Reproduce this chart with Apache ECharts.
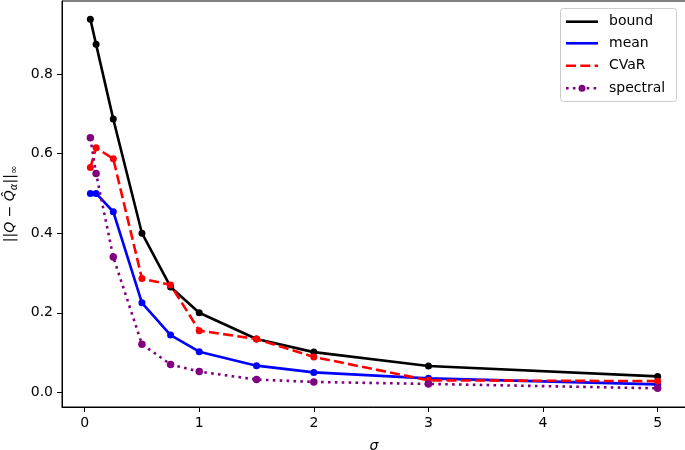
<!DOCTYPE html>
<html><head><meta charset="utf-8">
<script src="https://cdn.jsdelivr.net/npm/echarts@6/dist/echarts.min.js"></script>
<style>html,body{margin:0;padding:0;background:#fff}#c{width:685px;height:450px}</style>
</head><body><div id="c"></div>
<script>
const sigma = [0.05, 0.1, 0.25, 0.5, 0.75, 1, 1.5, 2, 3, 5];
const bound = [0.938, 0.875, 0.687, 0.400, 0.265, 0.200, 0.134, 0.101, 0.066, 0.040];
const mean = [0.500, 0.500, 0.454, 0.225, 0.144, 0.102, 0.067, 0.050, 0.035, 0.020];
const cvar = [0.565, 0.615, 0.587, 0.286, 0.270, 0.155, 0.134, 0.089, 0.030, 0.028];
const spectral = [0.640, 0.550, 0.340, 0.121, 0.070, 0.052, 0.032, 0.026, 0.021, 0.010];
const xTicks = [0, 1, 2, 3, 4, 5];
const yTicks = [0, 0.2, 0.4, 0.6, 0.8];
const seriesNames = ['bound', 'mean', 'CVaR', 'spectral'];
const seriesColors = ['#000000', '#0000ff', '#ff0000', '#800080'];

const FONT = 'DejaVu Sans';
const LW = 2.6;
const chart = echarts.init(document.getElementById('c'), null, {renderer: 'canvas'});

function mk(name, vals, color, type, size, z) {
  return {
    name: name, type: 'line', data: sigma.map((x, i) => [x, vals[i]]),
    symbol: 'circle', symbolSize: size, showAllSymbol: true, z: z,
    lineStyle: {color: color, width: LW, type: type, cap: 'butt'},
    itemStyle: {color: color, borderWidth: 0},
    emphasis: {disabled: true}, animation: false
  };
}

const dashPat = [10, 4.3];
const dotPat = [2.6, 4.3];
const legendY = [21.7, 43.3, 65.7, 88.3];
const dashes = [null, null, dashPat, dotPat];
const graphic = [{
  type: 'rect', shape: {x: 560.5, y: 8.5, width: 116, height: 93, r: 3},
  style: {fill: 'rgba(255,255,255,0.8)', stroke: '#cccccc', lineWidth: 1}, z: 100
}];
seriesNames.forEach((n, i) => {
  graphic.push({
    type: 'line', shape: {x1: 566, y1: legendY[i], x2: 598, y2: legendY[i]},
    style: {stroke: seriesColors[i], lineWidth: LW, lineDash: dashes[i]}, z: 101
  });
  graphic.push({
    type: 'text', x: 609, y: legendY[i],
    style: {text: n, fill: '#000', font: '14px "DejaVu Sans"', verticalAlign: 'middle', textAlign: 'left'}, z: 101
  });
});
graphic.push({type: 'circle', shape: {cx: 582, cy: legendY[3], r: 3.5}, style: {fill: seriesColors[3]}, z: 102});

chart.setOption({
  animation: false,
  backgroundColor: '#fff',
  grid: {left: 62, top: 1, right: -1, bottom: 43, show: true, borderColor: '#000', borderWidth: 1,
    backgroundColor: 'transparent', containLabel: false, outerBoundsMode: 'none'},
  xAxis: {
    type: 'value', min: -0.1975, max: 5.2475,
    axisLine: {show: true, onZero: false, lineStyle: {color: '#000', width: 1}},
    axisTick: {show: true, customValues: xTicks, length: 5, lineStyle: {color: '#000', width: 1}},
    axisLabel: {customValues: xTicks, color: '#000', fontSize: 14, fontFamily: FONT, margin: 9},
    splitLine: {show: false},
    name: 'σ', nameLocation: 'middle', nameGap: 32,
    nameTextStyle: {color: '#000', fontSize: 14, fontStyle: 'italic', fontFamily: FONT}
  },
  yAxis: {
    type: 'value', min: -0.037, max: 0.984,
    axisLine: {show: true, onZero: false, lineStyle: {color: '#000', width: 1}},
    axisTick: {show: true, customValues: yTicks, length: 5, lineStyle: {color: '#000', width: 1}},
    axisLabel: {customValues: yTicks, color: '#000', fontSize: 14, fontFamily: FONT, margin: 9,
      formatter: v => v.toFixed(1)},
    splitLine: {show: false},
    name: '{n|||}{i|Q}{n| − }{i|Q̂}{s|α}{n|||}{s|∞}', nameLocation: 'middle', nameGap: 43, nameRotate: 90,
    nameTextStyle: {
      color: '#000', fontSize: 14, fontFamily: FONT,
      rich: {
        n: {fontSize: 14, fontFamily: FONT, color: '#000', lineHeight: 18},
        i: {fontSize: 14, fontFamily: FONT, fontStyle: 'italic', color: '#000', lineHeight: 18},
        s: {fontSize: 10, fontFamily: FONT, fontStyle: 'italic', color: '#000', lineHeight: 10, verticalAlign: 'bottom', padding: [5, 0, 0, 0]}
      }
    }
  },
  series: [
    mk('bound', bound, seriesColors[0], 'solid', 7, 2),
    mk('mean', mean, seriesColors[1], 'solid', 7, 3),
    mk('CVaR', cvar, seriesColors[2], dashPat, 7, 4),
    mk('spectral', spectral, seriesColors[3], dotPat, 7.5, 5)
  ],
  graphic: graphic
});
</script>
</body></html>
